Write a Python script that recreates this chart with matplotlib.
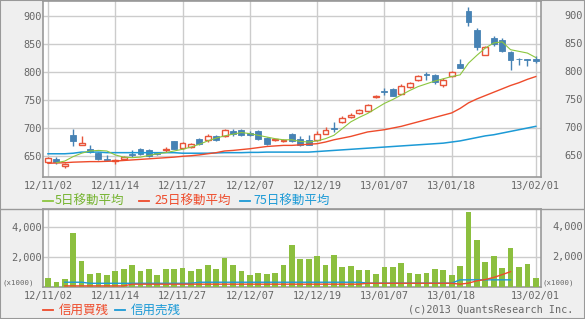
import numpy as np
import matplotlib
matplotlib.use('Agg')
import matplotlib.pyplot as plt
from matplotlib.lines import Line2D
from matplotlib.patches import Rectangle

nan = np.nan

# x軸ラベル (営業日インデックス)
date_index = [0, 8, 16, 24, 32, 40, 48, 58]
date_labels = ['12/11/02', '12/11/14', '12/11/27', '12/12/07',
               '12/12/19', '13/01/07', '13/01/18', '13/02/01']

opens = [639, 645, 633, 687, 669, 663, 655, 645, 641, 644,
         653, 662, 660, 655, 660, 676, 664, 667, 680, 678,
         685, 685, 695, 696, 692, 695, 682, 678, 676, 690,
         681, 678, 678, 690, 700, 710, 720, 727, 730, 755,
         766, 770, 761, 774, 786, 797, 795, 777, 793, 815,
         910, 876, 831, 860, 858, 836, 824, 823, 823]
highs = [648, 649, 637, 698, 685, 670, 657, 652, 645, 650,
         661, 664, 662, 658, 667, 677, 675, 673, 683, 689,
         687, 699, 699, 699, 694, 697, 684, 681, 681, 692,
         685, 687, 695, 702, 711, 722, 726, 734, 743, 759,
         771, 772, 778, 783, 795, 801, 797, 790, 802, 824,
         917, 879, 846, 864, 860, 838, 825, 823, 829]
lows = [637, 636, 628, 668, 669, 656, 643, 642, 636, 643,
        648, 652, 649, 652, 657, 662, 663, 665, 670, 675,
        676, 684, 686, 686, 686, 679, 669, 677, 675, 675,
        668, 669, 676, 689, 693, 709, 718, 725, 728, 753,
        759, 757, 760, 772, 784, 786, 778, 773, 791, 807,
        883, 839, 830, 846, 835, 804, 812, 810, 817]
closes = [647, 639, 636, 677, 673, 657, 645, 643, 643, 649,
          652, 654, 650, 654, 662, 663, 673, 671, 672, 686,
          678, 696, 689, 688, 687, 681, 671, 680, 679, 677,
          669, 670, 690, 696, 699, 718, 724, 732, 741, 757,
          765, 758, 776, 780, 793, 794, 783, 785, 800, 808,
          889, 844, 844, 850, 837, 821, 823, 822, 819]

ma5 = [nan, 638, 641, 649, 655, 659, 660, 659, 652, 648,
       647, 648, 651, 654, 656, 659, 662, 666, 671, 677,
       682, 686, 689, 692, 690, 687, 684, 681, 679, 679,
       676, 675, 677, 681, 687, 699, 711, 719, 726, 735,
       744, 751, 759, 767, 774, 779, 784, 788, 792, 795,
       816, 830, 843, 852, 854, 840, 837, 834, 826]
ma25 = [637, 637.5, 638, 639, 639.5, 640, 640, 640.5, 641, 642,
        643, 644, 645, 646, 647, 648, 649.5, 650.5, 652, 654,
        656, 659, 660, 661.5, 663, 665, 667, 668, 669, 669,
        670, 671, 672, 675, 679, 682, 685, 689, 693, 695,
        697, 700, 703, 707, 711, 715, 719, 723, 727, 735,
        745, 752, 758, 764, 770, 776, 781, 787, 792]
ma75 = [654, 654, 654, 655, 657, 657, 657, 656, 656, 656,
        656, 656, 656, 656, 656, 656, 655, 655, 655, 655,
        655.5, 656, 656, 656, 656.5, 656.5, 657, 657, 657, 657,
        657, 657, 658, 659, 660, 661, 662, 663, 664, 665,
        666, 667, 668, 669, 670, 671, 672, 673, 675, 677,
        680, 683, 686, 688, 691, 694, 697, 700, 703]

volume = [571, 347, 503, 3633, 1776, 891, 959, 823, 1095, 1184,
          1503, 1095, 1231, 823, 1231, 1231, 1299, 1095, 1231, 1503,
          1231, 1912, 1503, 1095, 823, 959, 891, 959, 1503, 2796,
          1844, 1844, 2048, 1503, 2116, 1367, 1435, 1163, 1163, 891,
          1367, 1367, 1639, 959, 891, 959, 1231, 1163, 823, 1435,
          5041, 3157, 1708, 2048, 1299, 2592, 1367, 1571, 571]
margin_buy = [nan, nan, 75, 75, 75, 75, 75, 75, 75, 75,
              190, 190, 190, 190, 190, 190, 190, 190, 190, 190,
              190, 190, 190, 190, 190, 190, 190, 190, 190, 190,
              190, 190, 190, 190, 190, 190, 190, 190, 250, 250,
              250, 250, 250, 250, 250, 250, 250, 250, 250, 190,
              260, 415, 500, 640, 830, 1030, nan, nan, nan]
margin_sell = [nan, nan, 320, 320, 320, 250, 250, 250, 250, 250,
               250, 250, 250, 250, 250, 250, 250, 250, 320, 320,
               320, 320, 320, 320, 320, 320, 320, 320, 320, 320,
               320, 320, 320, 320, 320, 320, 320, 320, 260, 260,
               260, 260, 260, 260, 260, 260, 260, 260, 260, 480,
               480, 480, 480, 480, 480, 480, nan, nan, nan]

RED = '#e8553a'
BLUE = '#4682b4'
G5 = '#8cc63f'
R25 = '#ee4b2b'
B75 = '#1c9ad6'
VOLC = '#8cbf3f'
GRID = '#cccccc'
SPINE = '#999999'
TXT = '#666666'
MONO = 'DejaVu Sans Mono'
JP = ['Noto Sans CJK JP', 'DejaVu Sans']

W, H = 585, 319
fig = plt.figure(figsize=(W / 100, H / 100), dpi=100)
fig.patch.set_facecolor('#efefef')


def px_axes(l, t, r, b):
    return fig.add_axes([l / W, 1 - b / H, (r - l) / W, (b - t) / H])


def ftext(x, y, s, **kw):
    fig.text(x / W, 1 - y / H, s, va='center', **kw)


def fdash(x0, x1, y, color):
    fig.add_artist(Line2D([x0 / W, x1 / W], [1 - y / H, 1 - y / H],
                          color=color, lw=1.3, transform=fig.transFigure))


ax = px_axes(43, 1, 541, 177)
axv = px_axes(43, 209, 541, 287)

x = np.arange(len(opens))
o = np.array(opens, float)
c = np.array(closes, float)
up = c > o
body = np.maximum(np.abs(c - o), 0.9)

# ローソク足
ax.vlines(x[up], np.array(lows)[up], np.array(highs)[up], color=RED, lw=1, zorder=3)
ax.vlines(x[~up], np.array(lows)[~up], np.array(highs)[~up], color=BLUE, lw=1, zorder=3)
ax.bar(x[up], body[up], bottom=o[up], width=0.7, facecolor='white',
       edgecolor=RED, lw=1, zorder=4)
ax.bar(x[~up], body[~up], bottom=np.minimum(o, c)[~up], width=0.7,
       facecolor=BLUE, edgecolor=BLUE, lw=0.6, zorder=4)

ax.plot(x, ma75, color=B75, lw=1.1, zorder=5)
ax.plot(x, ma25, color=R25, lw=1.0, zorder=5)
ax.plot(x, ma5, color=G5, lw=0.8, zorder=5)

ax.set_xlim(-0.59, 58.62)
ax.set_ylim(612.5, 927)
yt = [650, 700, 750, 800, 850, 900]
ax.set_yticks(yt)
ax.set_yticklabels([str(v) for v in yt])
for v in yt:
    ax.text(1 + 42 / 498, v, str(v), transform=ax.get_yaxis_transform(),
            ha='right', va='center', fontsize=7.4, family=MONO, color=TXT)

# 出来高
axv.bar(x, volume, width=0.68, color=VOLC, zorder=3)
axv.plot(x, margin_sell, color=B75, lw=1.0, zorder=4)
axv.plot(x, margin_buy, color=R25, lw=1.0, zorder=4)
axv.set_xlim(-0.59, 58.62)
axv.set_ylim(0, 5230)
vt = [2000, 4000]
axv.set_yticks(vt)
axv.set_yticklabels(['2,000', '4,000'])
for v in vt:
    axv.text(1 + 42 / 498, v, f'{v:,}', transform=axv.get_yaxis_transform(),
             ha='right', va='center', fontsize=7.4, family=MONO, color=TXT)

for a in (ax, axv):
    a.set_facecolor('white')
    a.set_xticks(date_index)
    a.set_xticklabels(date_labels)
    a.grid(True, color=GRID, lw=1, zorder=0)
    a.set_axisbelow(True)
    a.tick_params(length=0, labelsize=7.4, labelcolor=TXT, pad=1)
    a.tick_params(axis='x', pad=3)
    for lab in a.get_xticklabels() + a.get_yticklabels():
        lab.set_family(MONO)
    for s in a.spines.values():
        s.set_color(SPINE)
        s.set_linewidth(1.2)

# 凡例
fdash(43, 53, 201, G5)
ftext(55, 201, '5日移動平均', color='#74b32e', fontsize=9, family=JP)
fdash(139, 149, 201, R25)
ftext(154, 201, '25日移動平均', color=R25, fontsize=9, family=JP)
fdash(240, 250, 201, B75)
ftext(253, 201, '75日移動平均', color=B75, fontsize=9, family=JP)

fdash(43, 53, 310, R25)
ftext(59, 310, '信用買残', color=R25, fontsize=9, family=JP)
fdash(115, 125, 310, B75)
ftext(131, 310, '信用売残', color=B75, fontsize=9, family=JP)

ftext(2, 283, '(x1000)', color=TXT, fontsize=5.3, family=MONO, ha='left')
ftext(543, 283, '(x1000)', color=TXT, fontsize=5.3, family=MONO, ha='left')
ftext(573, 310, '(c)2013 QuantsResearch Inc.', color=TXT, fontsize=7.3,
      family=MONO, ha='right')

# 枠線
fig.add_artist(Line2D([0, 1], [1 - 209 / H, 1 - 209 / H], color=SPINE, lw=1,
                      transform=fig.transFigure))
fig.add_artist(Rectangle((0, 0), 1, 1, transform=fig.transFigure,
                         fill=False, edgecolor=SPINE, lw=1.5))

fig.savefig('out.png', dpi=100, facecolor=fig.get_facecolor())
